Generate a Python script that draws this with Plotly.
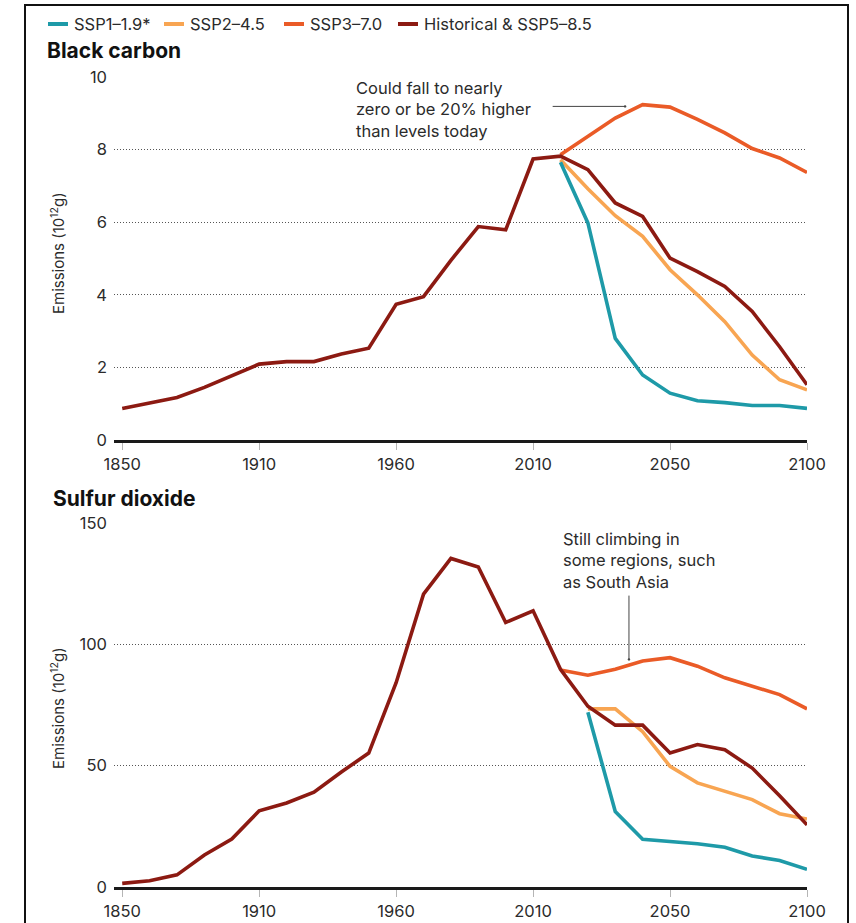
import plotly.graph_objects as go

# Time steps along the horizontal axis (drawn evenly spaced, one per step)
years = [1850, 1860, 1870, 1880, 1890, 1910, 1920, 1930, 1940, 1950, 1960,
         1970, 1980, 1990, 2000, 2010, 2015, 2020, 2030, 2040, 2050, 2060,
         2070, 2080, 2090, 2100]
tick_years = [1850, 1910, 1960, 2010, 2050, 2100]

# Black carbon emissions (10^12 g)
bc_hist_ssp585 = [0.87, 1.02, 1.17, 1.45, 1.77, 2.09, 2.16, 2.16, 2.37, 2.53, 3.74,
                  3.95, 4.95, 5.88, 5.79, 7.74, 7.82, 7.45, 6.53, 6.16, 5.01, 4.64,
                  4.23, 3.54, 2.57, 1.52]
bc_ssp119 = [None] * 16 + [7.65, 5.98, 2.80, 1.79, 1.29, 1.08, 1.03, 0.95, 0.95, 0.87]
bc_ssp245 = [None] * 16 + [7.72, 6.92, 6.18, 5.61, 4.69, 4.00, 3.26, 2.34, 1.66, 1.38]
bc_ssp370 = [None] * 16 + [7.86, 8.37, 8.87, 9.24, 9.17, 8.83, 8.46, 8.03, 7.77, 7.37]

# Sulfur dioxide emissions (10^12 g)
so2_hist_ssp585 = [1.5, 2.6, 5.0, 13.2, 19.8, 31.4, 34.6, 39.1, 47.4, 55.2, 84.2,
                   120.7, 135.4, 131.9, 109.0, 113.8, 89.7, 74.5, 66.7, 66.7, 55.2,
                   58.7, 56.6, 49.0, 37.6, 25.6]
so2_ssp119 = [None] * 17 + [72.0, 31.1, 19.7, 18.7, 17.8, 16.4, 12.8, 10.9, 7.3]
so2_ssp245 = [None] * 17 + [73.4, 73.4, 64.0, 49.7, 42.9, 39.4, 36.0, 30.2, 28.0]
so2_ssp370 = [None] * 16 + [89.4, 87.3, 89.7, 93.1, 94.5, 91.0, 86.2, 82.8, 79.3, 73.4]

series_names = ["SSP1\u20131.9*", "SSP2\u20134.5", "SSP3\u20137.0", "Historical & SSP5\u20138.5"]
colors = ["#1e9aa8", "#f8a552", "#ea5b27", "#8c1a12"]

W, H = 856, 923
FONT = "Inter"
TEXT = "#2b2b2b"
FS = 16.5

cats = [str(y) for y in years]
ticks = [str(y) for y in tick_years]


def px_x(p):
    return p / W


def px_y(p):
    return 1 - p / H


fig = go.Figure()

panels = [
    ("x", "y", [bc_ssp119, bc_ssp245, bc_ssp370, bc_hist_ssp585]),
    ("x2", "y2", [so2_ssp119, so2_ssp245, so2_ssp370, so2_hist_ssp585]),
]
draw_order = [2, 1, 0, 3]
for xa, ya, vals in panels:
    for k in draw_order:
        fig.add_trace(go.Scatter(
            x=cats, y=vals[k], mode="lines", name=series_names[k],
            line=dict(color=colors[k], width=3.6),
            xaxis=xa, yaxis=ya, showlegend=False,
            connectgaps=False, hoverinfo="skip",
        ))

x_common = dict(
    type="category", categoryorder="array", categoryarray=cats,
    range=[-0.3, 25.0], tickmode="array", tickvals=ticks, ticktext=ticks,
    showgrid=False, zeroline=False, showline=True, linecolor="#1a1a1a", linewidth=2.5,
    ticks="outside", ticklen=7, tickwidth=1, tickcolor="#b5b5b5",
    tickfont=dict(family=FONT, size=FS, color=TEXT),
    domain=[px_x(114), px_x(807)], automargin=False,
)
y_common = dict(
    showgrid=True, gridcolor="#555555", griddash="1px,2px", gridwidth=1,
    zeroline=False, showline=False, ticks="",
    tickfont=dict(family=FONT, size=FS, color=TEXT),
    ticklabelstandoff=6, automargin=False,
)

fig.update_layout(
    width=W, height=H,
    margin=dict(l=0, r=0, t=0, b=0, autoexpand=False),
    paper_bgcolor="white", plot_bgcolor="white",
    font=dict(family=FONT, color=TEXT),
    xaxis=dict(**x_common, anchor="y"),
    xaxis2=dict(**x_common, anchor="y2"),
    yaxis=dict(**y_common, range=[0, 10], tickvals=[0, 2, 4, 6, 8, 10],
               domain=[px_y(440), px_y(77)], anchor="x"),
    yaxis2=dict(**y_common, range=[0, 150], tickvals=[0, 50, 100, 150],
                domain=[px_y(887), px_y(523)], anchor="x2"),
    showlegend=False,
)

TITLE_FONT = dict(family=FONT, size=21, weight=900, color="#111111")
annotations = [
    # panel titles
    dict(text="<b>Black carbon</b>", x=px_x(45), y=px_y(50), xref="paper", yref="paper",
         xanchor="left", yanchor="middle", showarrow=False, font=TITLE_FONT),
    dict(text="<b>Sulfur dioxide</b>", x=px_x(51), y=px_y(498), xref="paper", yref="paper",
         xanchor="left", yanchor="middle", showarrow=False, font=TITLE_FONT),
    # axis titles
    dict(text="Emissions (10<sup>12</sup>g)", x=px_x(58), y=px_y(253), xref="paper",
         yref="paper", textangle=-90, showarrow=False, xanchor="center", yanchor="middle",
         font=dict(family=FONT, size=15, color=TEXT)),
    dict(text="Emissions (10<sup>12</sup>g)", x=px_x(58), y=px_y(708), xref="paper",
         yref="paper", textangle=-90, showarrow=False, xanchor="center", yanchor="middle",
         font=dict(family=FONT, size=15, color=TEXT)),
    # callouts
    dict(text="Could fall to nearly<br>zero or be 20% higher<br>than levels today",
         x=px_x(354), y=px_y(109), xref="paper", yref="paper", xanchor="left",
         yanchor="middle", align="left", showarrow=False,
         font=dict(family=FONT, size=FS, color=TEXT)),
    dict(text="", x=18.36, y=9.19, xref="x", yref="y", ax=15.66, ay=9.19,
         axref="x", ayref="y", showarrow=True, arrowhead=6, arrowsize=0.6,
         arrowwidth=1, arrowcolor="#444444", startstandoff=0, standoff=0),
    dict(text="Still climbing in<br>some regions, such<br>as South Asia",
         x=px_x(561), y=px_y(560), xref="paper", yref="paper", xanchor="left",
         yanchor="middle", align="left", showarrow=False,
         font=dict(family=FONT, size=FS, color=TEXT)),
    dict(text="", x=18.5, y=93.8, xref="x2", yref="y2", ax=18.5, ay=120.7,
         axref="x2", ayref="y2", showarrow=True, arrowhead=6, arrowsize=0.6,
         arrowwidth=1, arrowcolor="#444444", startstandoff=0, standoff=0),
]

# Key along the top: short colour swatch followed by the scenario name
key_line_x = [48, 164, 284, 398]
key_text_x = [72, 188, 308, 422]
KEY_Y = 24
for name, color, lx, tx in zip(series_names, colors, key_line_x, key_text_x):
    fig.add_shape(type="line", xref="paper", yref="paper",
                  x0=px_x(lx), x1=px_x(lx + 20), y0=px_y(KEY_Y), y1=px_y(KEY_Y),
                  line=dict(color=color, width=4))
    annotations.append(dict(text=name, x=px_x(tx), y=px_y(KEY_Y), xref="paper",
                            yref="paper", xanchor="left", yanchor="middle",
                            showarrow=False, font=dict(family=FONT, size=FS, color=TEXT)))

fig.update_layout(annotations=annotations)

# Outer frame, open at the bottom
fig.add_shape(
    type="path", xref="paper", yref="paper",
    path=f"M {px_x(25)},{px_y(930)} L {px_x(25)},{px_y(5)} L {px_x(848)},{px_y(5)} L {px_x(848)},{px_y(930)}",
    line=dict(color="#111111", width=2),
)

fig.write_html("out.html")
